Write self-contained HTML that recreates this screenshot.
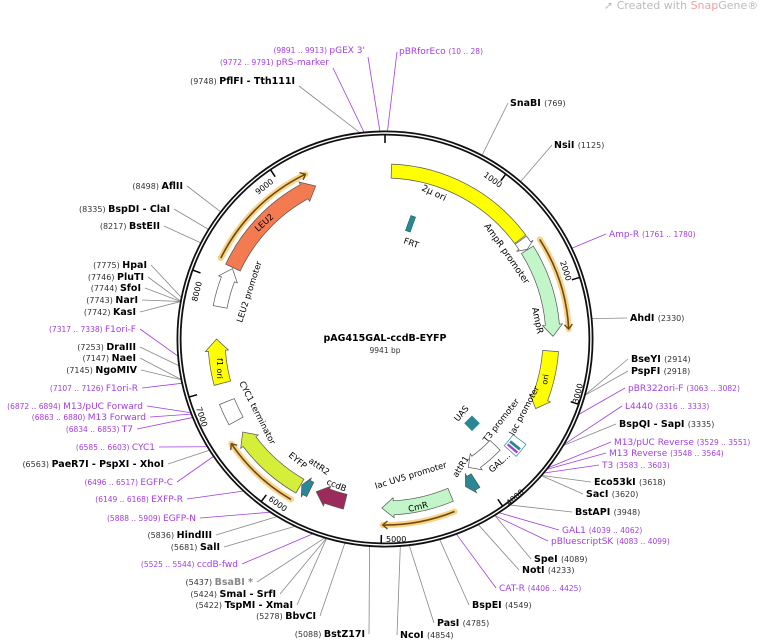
<!DOCTYPE html>
<html><head><meta charset="utf-8"><style>
html,body{margin:0;padding:0;background:#fff;}
svg{display:block;font-family:"DejaVu Sans","Liberation Sans",sans-serif;}
.b{font-weight:bold;font-size:9.5px;fill:#000}
.n{font-size:8px;fill:#333}
.p{font-size:9px;fill:#a23ee0}
.pn{font-size:7.5px;fill:#a23ee0}
.f{font-size:9px;fill:#000}
</style></head><body>
<svg id="s" width="760" height="641" viewBox="0 0 760 641" xmlns="http://www.w3.org/2000/svg">
<g id="lines"></g>
<g id="feat"></g>
<circle cx="385" cy="339" r="206" fill="none" stroke="#111" stroke-width="5"/>
<circle cx="385" cy="339" r="206" fill="none" stroke="#fff" stroke-width="1.4"/>
<g id="ticks"></g>
<text x="604" y="9" font-size="11" fill="#bbb">&#10138; Created with <tspan fill="#f0a0a0">Snap</tspan>Gene®</text>
<text x="385" y="341" text-anchor="middle" class="b">pAG415GAL-ccdB-EYFP</text>
<text x="385" y="353" text-anchor="middle" font-size="7.5" fill="#333">9941 bp</text>

<g font-size="8" fill="#000">
<text transform="translate(483,176) rotate(36)">1000</text>
<text transform="translate(560,262) rotate(72)">2000</text>
<text transform="translate(578,404) rotate(-76)">3000</text>
<text transform="translate(509,506) rotate(-40)">4000</text>
<text transform="translate(386,542)">5000</text>
<text transform="translate(268,500) rotate(36)">6000</text>
<text transform="translate(196,408) rotate(72)">7000</text>
<text transform="translate(197,302) rotate(-76)">8000</text>
<text transform="translate(258,195) rotate(-38)">9000</text>
</g>

<g class="f">
<text transform="translate(421,190) rotate(25)">2µ ori</text>
<text transform="translate(484,226) rotate(55)">AmpR promoter</text>
<text transform="translate(532,308) rotate(78)">AmpR</text>
<text transform="translate(547,385) rotate(-80)" font-size="8">ori</text>
<text transform="translate(514,436) rotate(-62)" font-size="8.5">lac promoter</text>
<text transform="translate(487,443) rotate(-52)" font-size="8.5">T3 promoter</text>
<text transform="translate(458,422) rotate(-50)" font-size="8.5">UAS</text>
<text transform="translate(492,473) rotate(-42)" font-size="8.5">GAL...</text>
<text transform="translate(457,478) rotate(-58)" font-size="8.5">attR1</text>
<text transform="translate(376,489) rotate(-17)" font-size="8.5">lac UV5 promoter</text>
<text transform="translate(409,512) rotate(-14)" font-size="8.5">CmR</text>
<text transform="translate(326,484) rotate(22)" font-size="8.5">ccdB</text>
<text transform="translate(308,462) rotate(35)" font-size="8.5">attR2</text>
<text transform="translate(288,456) rotate(40)" font-size="8.5">EYFP</text>
<text transform="translate(239,383) rotate(63)" font-size="8.5">CYC1 terminator</text>
<text transform="translate(217,358) rotate(90)" font-size="8">f1 ori</text>
<text transform="translate(242,323) rotate(-72)" font-size="8.5">LEU2 promoter</text>
<text transform="translate(258,232) rotate(-42)" font-size="8.5">LEU2</text>
<text transform="translate(403,243) rotate(20)" font-size="8.5">FRT</text>
</g>
<rect x="408" y="216" width="5" height="16" fill="#2a8796" stroke="#155" stroke-width=".5" transform="rotate(20 411 224)"/>
<rect x="466" y="418" width="11" height="11" fill="#2a8796" transform="rotate(45 472 424)"/>

<g text-anchor="end">
<text x="365" y="53"><tspan class="pn">(9891 .. 9913)  </tspan><tspan class="p">pGEX 3'</tspan></text>
<text x="329" y="65"><tspan class="pn">(9772 .. 9791)  </tspan><tspan class="p">pRS-marker</tspan></text>
<text x="295" y="84"><tspan class="n">(9748)  </tspan><tspan class="b">PflFI  - Tth111I</tspan></text>
<text x="183" y="189"><tspan class="n">(8498)  </tspan><tspan class="b">AflII</tspan></text>
<text x="170" y="212"><tspan class="n">(8335)  </tspan><tspan class="b">BspDI  - ClaI</tspan></text>
<text x="160" y="229"><tspan class="n">(8217)  </tspan><tspan class="b">BstEII</tspan></text>
<text x="147" y="268"><tspan class="n">(7775)  </tspan><tspan class="b">HpaI</tspan></text>
<text x="144" y="280"><tspan class="n">(7746)  </tspan><tspan class="b">PluTI</tspan></text>
<text x="141" y="291"><tspan class="n">(7744)  </tspan><tspan class="b">SfoI</tspan></text>
<text x="138" y="303"><tspan class="n">(7743)  </tspan><tspan class="b">NarI</tspan></text>
<text x="136" y="315"><tspan class="n">(7742)  </tspan><tspan class="b">KasI</tspan></text>
<text x="136" y="332"><tspan class="pn">(7317 .. 7338)  </tspan><tspan class="p">F1ori-F</tspan></text>
<text x="136" y="350"><tspan class="n">(7253)  </tspan><tspan class="b">DraIII</tspan></text>
<text x="136" y="361"><tspan class="n">(7147)  </tspan><tspan class="b">NaeI</tspan></text>
<text x="137" y="373"><tspan class="n">(7145)  </tspan><tspan class="b">NgoMIV</tspan></text>
<text x="138" y="391"><tspan class="pn">(7107 .. 7126)  </tspan><tspan class="p">F1ori-R</tspan></text>
<text x="143" y="409"><tspan class="pn">(6872 .. 6894)  </tspan><tspan class="p">M13/pUC Forward</tspan></text>
<text x="146" y="420"><tspan class="pn">(6863 .. 6880)  </tspan><tspan class="p">M13 Forward</tspan></text>
<text x="133" y="432"><tspan class="pn">(6834 .. 6853)  </tspan><tspan class="p">T7</tspan></text>
<text x="155" y="450"><tspan class="pn">(6585 .. 6603)  </tspan><tspan class="p">CYC1</tspan></text>
<text x="164" y="467"><tspan class="n">(6563)  </tspan><tspan class="b">PaeR7I  - PspXI  - XhoI</tspan></text>
<text x="173" y="485"><tspan class="pn">(6496 .. 6517)  </tspan><tspan class="p">EGFP-C</tspan></text>
<text x="183" y="502"><tspan class="pn">(6149 .. 6168)  </tspan><tspan class="p">EXFP-R</tspan></text>
<text x="196" y="521"><tspan class="pn">(5888 .. 5909)  </tspan><tspan class="p">EGFP-N</tspan></text>
<text x="212" y="538"><tspan class="n">(5836)  </tspan><tspan class="b">HindIII</tspan></text>
<text x="220" y="550"><tspan class="n">(5681)  </tspan><tspan class="b">SalI</tspan></text>
<text x="238" y="567"><tspan class="pn">(5525 .. 5544)  </tspan><tspan class="p">ccdB-fwd</tspan></text>
<text x="253" y="585"><tspan class="n">(5437)  </tspan><tspan class="b" style="fill:#888">BsaBI *</tspan></text>
<text x="276" y="597"><tspan class="n">(5424)  </tspan><tspan class="b">SmaI  - SrfI</tspan></text>
<text x="293" y="608"><tspan class="n">(5422)  </tspan><tspan class="b">TspMI  - XmaI</tspan></text>
<text x="316" y="619"><tspan class="n">(5278)  </tspan><tspan class="b">BbvCI</tspan></text>
<text x="365" y="637"><tspan class="n">(5088)  </tspan><tspan class="b">BstZ17I</tspan></text>
</g>
<g>
<text x="399" y="54"><tspan class="p">pBRforEco  </tspan><tspan class="pn">(10 .. 28)</tspan></text>
<text x="510" y="106"><tspan class="b">SnaBI  </tspan><tspan class="n">(769)</tspan></text>
<text x="554" y="148"><tspan class="b">NsiI  </tspan><tspan class="n">(1125)</tspan></text>
<text x="609" y="237"><tspan class="p">Amp-R  </tspan><tspan class="pn">(1761 .. 1780)</tspan></text>
<text x="630" y="321"><tspan class="b">AhdI  </tspan><tspan class="n">(2330)</tspan></text>
<text x="631" y="362"><tspan class="b">BseYI  </tspan><tspan class="n">(2914)</tspan></text>
<text x="631" y="374"><tspan class="b">PspFI  </tspan><tspan class="n">(2918)</tspan></text>
<text x="628" y="391"><tspan class="p">pBR322ori-F  </tspan><tspan class="pn">(3063 .. 3082)</tspan></text>
<text x="625" y="409"><tspan class="p">L4440  </tspan><tspan class="pn">(3316 .. 3333)</tspan></text>
<text x="619" y="427"><tspan class="b">BspQI  - SapI  </tspan><tspan class="n">(3335)</tspan></text>
<text x="614" y="445"><tspan class="p">M13/pUC Reverse  </tspan><tspan class="pn">(3529 .. 3551)</tspan></text>
<text x="609" y="456"><tspan class="p">M13 Reverse  </tspan><tspan class="pn">(3548 .. 3564)</tspan></text>
<text x="602" y="468"><tspan class="p">T3  </tspan><tspan class="pn">(3583 .. 3603)</tspan></text>
<text x="594" y="485"><tspan class="b">Eco53kI  </tspan><tspan class="n">(3618)</tspan></text>
<text x="586" y="497"><tspan class="b">SacI  </tspan><tspan class="n">(3620)</tspan></text>
<text x="575" y="515"><tspan class="b">BstAPI  </tspan><tspan class="n">(3948)</tspan></text>
<text x="562" y="533"><tspan class="p">GAL1  </tspan><tspan class="pn">(4039 .. 4062)</tspan></text>
<text x="551" y="544"><tspan class="p">pBluescriptSK  </tspan><tspan class="pn">(4083 .. 4099)</tspan></text>
<text x="534" y="562"><tspan class="b">SpeI  </tspan><tspan class="n">(4089)</tspan></text>
<text x="522" y="573"><tspan class="b">NotI  </tspan><tspan class="n">(4233)</tspan></text>
<text x="499" y="591"><tspan class="p">CAT-R  </tspan><tspan class="pn">(4406 .. 4425)</tspan></text>
<text x="472" y="608"><tspan class="b">BspEI  </tspan><tspan class="n">(4549)</tspan></text>
<text x="437" y="626"><tspan class="b">PasI  </tspan><tspan class="n">(4785)</tspan></text>
<text x="400" y="638"><tspan class="b">NcoI  </tspan><tspan class="n">(4854)</tspan></text>
</g>
</svg>
<script>
(function(){
var NS="http://www.w3.org/2000/svg",cx=385,cy=339,T=9941;
function P(r,b){var a=b/T*2*Math.PI;return [cx+r*Math.sin(a),cy-r*Math.cos(a)];}
function s(p){return p[0].toFixed(1)+" "+p[1].toFixed(1);}
function add(g,tag,at){var e=document.createElementNS(NS,tag);for(var k in at)e.setAttribute(k,at[k]);document.getElementById(g).appendChild(e);return e;}
function arrow(ri,ro,b1,b2,h,fill,st){
 var hb=Math.min(h,b2-b1),m=b2-hb,L=((m-b1)/T>0.5)?1:0,rm=(ri+ro)/2;
 var d="M"+s(P(ro,b1))+" A"+ro+" "+ro+" 0 "+L+" 1 "+s(P(ro,m));
 if(hb>0){d+=" L"+s(P(ro+3,m))+" L"+s(P(rm,b2))+" L"+s(P(ri-3,m))+" L"+s(P(ri,m));}
 else{d+=" L"+s(P(ri,m));}
 d+=" A"+ri+" "+ri+" 0 "+L+" 0 "+s(P(ri,b1))+" Z";
 add("feat","path",{d:d,fill:fill,stroke:st||"#555","stroke-width":"0.7"});
}
function band(r,b1,b2){
 var d="M"+s(P(r,b1))+" A"+r+" "+r+" 0 0 1 "+s(P(r,b2));
 add("feat","path",{d:d,fill:"none",stroke:"#f7c76a","stroke-width":"6","stroke-linecap":"round",opacity:"0.8"});
 add("feat","path",{d:d,fill:"none",stroke:"#6b4a10","stroke-width":"1.6"});
 var a=P(r,b2),b=P(r+4,b2-40),c=P(r-4,b2-40);
 add("feat","path",{d:"M"+s(b)+" L"+s(a)+" L"+s(c),fill:"none",stroke:"#6b4a10","stroke-width":"1.4"});
}
arrow(161,175,60,1480,0,"#ffff00");
arrow(161,175,1490,1595,40,"#ffffff");
arrow(161,175,1600,2460,110,"#c2f5c8");
arrow(158,174,2600,3170,110,"#ffff00");
arrow(160,176,3500,3640,0,"#ffffff","#2a8796");
arrow(162,174,3560,3580,0,"#2a8796","#2a8796");
arrow(162,174,3600,3615,0,"#a23ee0","#a23ee0");
arrow(146,160,3700,4060,100,"#ffffff");
arrow(160,176,4070,4180,60,"#2a8796");
arrow(162,176,4340,5000,110,"#c2f5c8");
arrow(160,175,5350,5640,110,"#9c2a5a");
arrow(160,176,5700,5790,50,"#2a8796");
arrow(162,178,5800,6540,110,"#d4ee3a");
arrow(162,178,6660,6860,0,"#ffffff");
arrow(160,177,7036,7455,110,"#ffff00");
arrow(161,175,7760,8140,110,"#ffffff");
arrow(160,176,8150,9268,120,"#f47a50");
band(184,1580,2400);band(186,4365,4990);band(186,5810,6510);band(183,8180,9230);
for(var i=0;i<10;i++){var b=i*1000;add("ticks","line",{x1:P(204,b)[0],y1:P(204,b)[1],x2:P(196,b)[0],y2:P(196,b)[1],stroke:"#000","stroke-width":"1.5"});}
var gr="#888",pu="#a23ee0";
var L=[[368,57,9902,pu],[333,68,9781,pu],[299,86,9748,gr],[187,186,8498,gr],[174,209,8335,gr],[164,226,8217,gr],
[151,265,7775,gr],[148,277,7746,gr],[145,288,7744,gr],[142,300,7743,gr],[140,312,7742,gr],[140,329,7327,pu],[140,347,7253,gr],
[140,358,7147,gr],[141,370,7145,gr],[142,388,7116,pu],[147,406,6883,pu],[150,417,6871,pu],[137,429,6843,pu],[159,447,6594,pu],
[168,464,6563,gr],[177,482,6506,pu],[187,499,6158,pu],[200,518,5898,pu],[216,535,5836,gr],[224,547,5681,gr],[242,564,5534,pu],
[257,582,5437,gr],[280,594,5424,gr],[297,605,5422,gr],[320,616,5278,gr],[369,634,5088,gr],
[397,52,19,pu],[508,103,769,gr],[552,145,1125,gr],[606,234,1770,pu],[627,318,2330,gr],[628,359,2914,gr],[628,371,2918,gr],
[625,388,3072,pu],[622,406,3324,pu],[616,424,3335,gr],[611,442,3540,pu],[606,453,3556,pu],[599,465,3593,pu],[591,482,3618,gr],
[583,494,3620,gr],[572,512,3948,gr],[559,530,4050,pu],[548,541,4091,pu],[531,559,4089,gr],[519,570,4233,gr],[496,588,4415,pu],
[469,605,4549,gr],[434,623,4785,gr],[397,635,4854,gr]];
L.forEach(function(l){var e=P(208,l[2]);add("lines","line",{x1:l[0],y1:l[1],x2:e[0],y2:e[1],stroke:l[3],"stroke-width":"0.8"});});
})();
</script>
</body></html>
